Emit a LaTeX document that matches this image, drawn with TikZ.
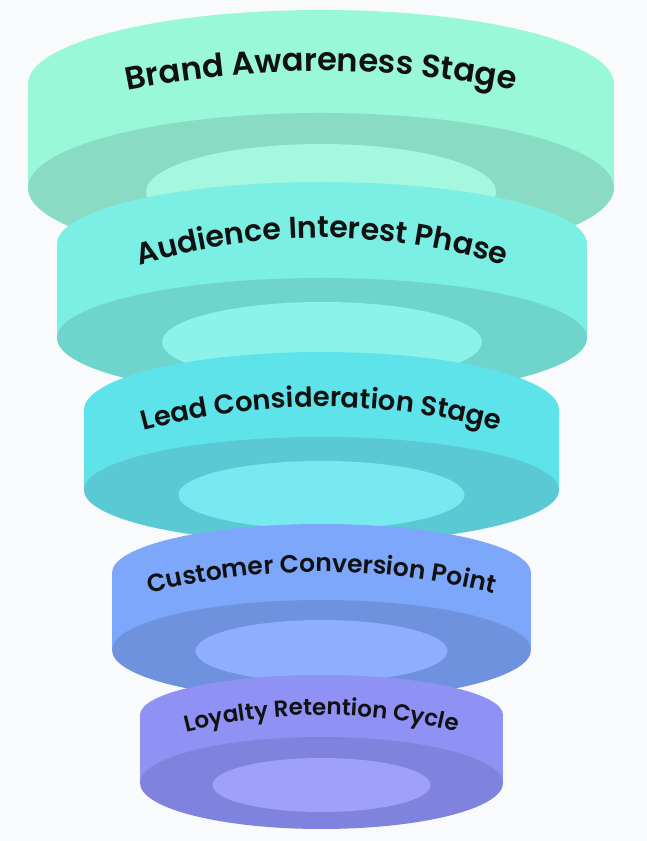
\documentclass[tikz,border=0pt]{standalone}
\usepackage{fontspec}
\newfontfamily\labelfont{Poppins}[UprightFont=* SemiBold]
\usetikzlibrary{decorations.text}
\definecolor{bg}{HTML}{F8FAFC}
\definecolor{txt}{HTML}{111111}
\definecolor{ra}{HTML}{98F8D8}\definecolor{rad}{HTML}{8ADBC3}\definecolor{rai}{HTML}{A5F8DF}
\definecolor{rb}{HTML}{7BEFE3}\definecolor{rbd}{HTML}{6FD5CC}\definecolor{rbi}{HTML}{8DF3EA}
\definecolor{rc}{HTML}{5EE3EB}\definecolor{rcd}{HTML}{5AC9D3}\definecolor{rci}{HTML}{79E9F1}
\definecolor{rd}{HTML}{7CA7FB}\definecolor{rdd}{HTML}{6F92DF}\definecolor{rdi}{HTML}{8FAEFE}
\definecolor{re}{HTML}{8F91F5}\definecolor{red}{HTML}{8083DD}\definecolor{rei}{HTML}{9FA0FA}
\tikzset{
  ringtext/.style 2 args={decorate, decoration={text along path, text align=center, text color=txt,
      text={|\labelfont\fontsize{#1}{#1}\selectfont|#2}}}
}
\begin{document}
\begin{tikzpicture}[x=1pt,y=1pt]
\useasboundingbox (0,0) rectangle (647,841);
\fill[bg] (0,0) rectangle (647,841);
% ring 1
\fill[ra] (321,757) ellipse[x radius=293,y radius=74];
\fill[ra] (28,757) rectangle (614,653);
\fill[rad] (321,653) ellipse[x radius=293,y radius=75];
\fill[rai] (321,649) ellipse[x radius=175,y radius=48];
\path[ringtext={32.1}{Brand Awareness Stage}] (61,734.8) .. controls (234.3,781.7) and (407.7,781.7) .. (581,734.8);
% ring 2
\fill[rb] (322,597) ellipse[x radius=265,y radius=62];
\fill[rb] (57,597) rectangle (587,503);
\fill[rbd] (322,503) ellipse[x radius=265,y radius=60];
\fill[rbi] (322,499) ellipse[x radius=160,y radius=40];
\path[ringtext={30.1}{Audience Interest Phase}] (82,555.9) .. controls (242,618.7) and (402,618.7) .. (562,555.9);
% ring 3
\fill[rc] (321.5,431) ellipse[x radius=237.5,y radius=58];
\fill[rc] (84,431) rectangle (559,351);
\fill[rcd] (321.5,351) ellipse[x radius=237.5,y radius=53];
\fill[rci] (321.5,346) ellipse[x radius=143,y radius=34];
\path[ringtext={27.4}{Lead Consideration Stage}] (91.5,394.8) .. controls (244.8,447.1) and (398.2,447.1) .. (551.5,394.8);
% ring 4
\fill[rd] (321.5,268) ellipse[x radius=209.5,y radius=49];
\fill[rd] (112,268) rectangle (531,191);
\fill[rdd] (321.5,191) ellipse[x radius=209.5,y radius=50];
\fill[rdi] (321.5,190) ellipse[x radius=126,y radius=31];
\path[ringtext={25}{Customer Conversion Point}] (116.5,238.8) .. controls (253.2,279.1) and (389.8,279.1) .. (526.5,238.8);
% ring 5
\fill[re] (321.5,126) ellipse[x radius=181.5,y radius=40];
\fill[re] (140,126) rectangle (503,58);
\fill[red] (321.5,58) ellipse[x radius=181.5,y radius=46];
\fill[rei] (321.5,56) ellipse[x radius=109,y radius=27];
\path[ringtext={23}{Loyalty Retention Cycle}] (146.5,97.1) .. controls (263.2,135.6) and (379.8,135.6) .. (496.5,97.1);
\end{tikzpicture}
\end{document}
